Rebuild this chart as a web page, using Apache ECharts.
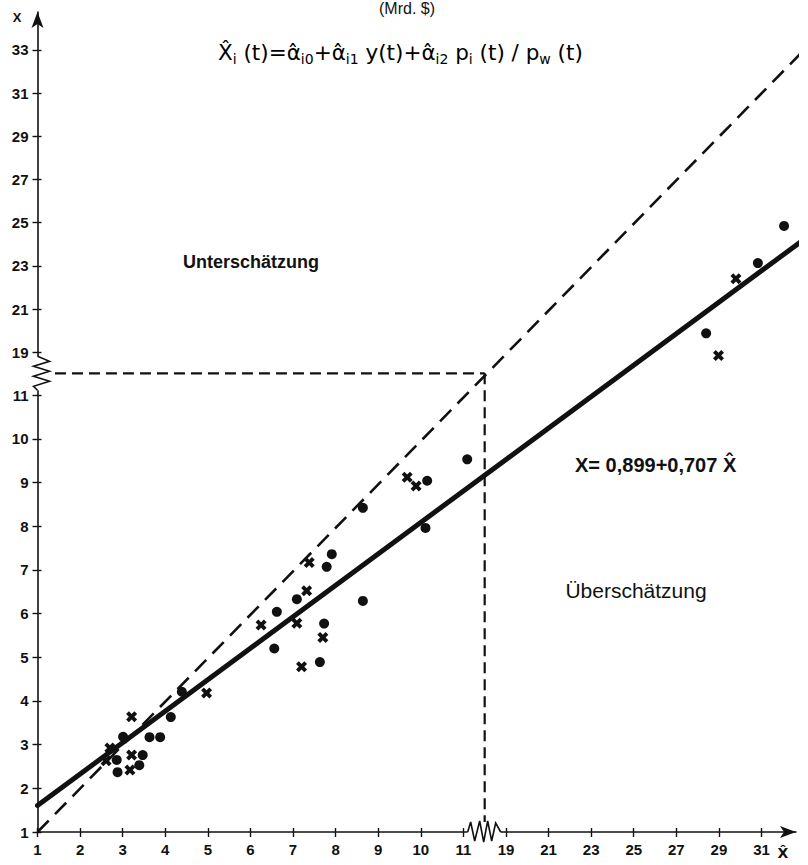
<!DOCTYPE html>
<html>
<head>
<meta charset="utf-8">
<script src="https://cdn.jsdelivr.net/npm/echarts@6/dist/echarts.min.js"></script>
<style>
  html, body { margin: 0; padding: 0; background: #fff; }
  #chart { width: 808px; height: 865px; }
</style>
</head>
<body>
<div id="chart"></div>
<script>
// Observed (X) against estimated (X̂) values, Mrd. $
// Countries shown with crosses
const crossXhat = [3.21, 2.70, 2.61, 3.21, 3.17, 4.97, 9.68, 9.89, 7.38, 7.32, 6.25, 7.09, 7.70, 7.20, 29.80, 28.98];
const crossX    = [3.64, 2.92, 2.63, 2.76, 2.42, 4.18, 9.12, 8.92, 7.17, 6.52, 5.74, 5.78, 5.45, 4.78, 22.40, 18.85];
// Countries shown with filled dots
const dotXhat = [4.13, 3.01, 3.63, 3.88, 2.86, 2.88, 3.47, 3.39, 4.39, 11.09, 10.15, 8.64, 10.11, 7.91, 7.79, 7.09, 6.62, 8.64, 7.73, 6.56, 7.63, 32.06, 30.83, 28.40];
const dotX    = [3.63, 3.18, 3.17, 3.17, 2.65, 2.37, 2.76, 2.53, 4.21, 9.53, 9.04, 8.42, 7.96, 7.36, 7.07, 6.33, 6.04, 6.29, 5.77, 5.20, 4.89, 24.85, 23.13, 19.88];

// Tick labels below and above the axis break
const lowerTicks = [1, 2, 3, 4, 5, 6, 7, 8, 9, 10, 11];
const xUpperTicks = [19, 21, 23, 25, 27, 29, 31];
const yUpperTicks = [19, 21, 23, 25, 27, 29, 31, 33];

// Fitted line X = 0,899 + 0,707 X̂ and the 45° reference line
const regIntercept = 0.899;
const regSlope = 0.707;
const regRange = [1, 33];
const diagonalRange = [1, 33.6];
const breakValue = 11.5;

// Axis scale: 1:1 up to 11, from 19 on at about half scale
function xPos(v) { return v <= 15 ? v : 12 + (v - 19) * 0.5; }
function yPos(v) { return v <= 15 ? v : 11.98 + (v - 19) * 0.4945; }

const xTickPos = lowerTicks.map(xPos).concat(xUpperTicks.map(xPos));
const xTickText = lowerTicks.concat(xUpperTicks).map(String);
const yTickPos = lowerTicks.map(yPos).concat(yUpperTicks.map(yPos));
const yTickText = lowerTicks.concat(yUpperTicks).map(String);

function labelLookup(pos, text) {
  return function (v) {
    let best = 0;
    for (let i = 1; i < pos.length; i++) {
      if (Math.abs(pos[i] - v) < Math.abs(pos[best] - v)) best = i;
    }
    return text[best];
  };
}

const crossPts = crossXhat.map((x, i) => [xPos(x), yPos(crossX[i])]);
const dotPts = dotXhat.map((x, i) => [xPos(x), yPos(dotX[i])]);
const regPts = regRange.map(x => [xPos(x), yPos(regIntercept + regSlope * x)]);
const diagPts = diagonalRange.map(v => [xPos(v), yPos(v)]);
const hGuide = [[1.41, breakValue], [breakValue, breakValue]];
const vGuide = [[breakValue, breakValue], [breakValue, 1.23]];

const INK = '#111';
const FONT = '"Liberation Sans", Arial, sans-serif';
const MATH_FONT = '"DejaVu Sans", sans-serif';
const CROSS = 'path://M2.5,0 L5,2.5 L7.5,0 L10,2.5 L7.5,5 L10,7.5 L7.5,10 L5,7.5 L2.5,10 L0,7.5 L2.5,5 L0,2.5 Z';

// zigzag outlines of the two axis breaks, relative to the break centre
const zigX = [[-17, 0], [-14, -10], [-10, 9], [-5, -11], [-1, 10], [3, -11], [7, 9], [11, -9], [16, 0]];
const zigY = [[0, -17], [12, -12], [-4, -7], [12, -2], [-4, 3], [12, 8], [-4, 13], [0, 17]];

function axisPair(isX) {
  const pos = isX ? xTickPos : yTickPos;
  const text = isX ? xTickText : yTickText;
  const common = {
    type: 'value',
    position: isX ? 'bottom' : 'left',
    min: 1,
    max: isX ? 18.81 : 19.77,
    splitLine: { show: false },
    axisPointer: { show: false }
  };
  return [
    Object.assign({}, common, {
      axisLine: {
        show: true, onZero: false,
        symbol: ['none', 'arrow'], symbolSize: [9, 16],
        lineStyle: { color: INK, width: 1.6 }
      },
      axisTick: { show: true, customValues: pos, length: 5, lineStyle: { color: INK, width: 1.4 } },
      axisLabel: {
        show: true, customValues: pos, formatter: labelLookup(pos, text),
        margin: isX ? 10 : 9, color: INK, fontSize: 15, fontWeight: 'bold', fontFamily: FONT
      }
    }),
    Object.assign({}, common, {
      axisLine: { show: false },
      axisTick: { show: true, inside: true, customValues: pos, length: 4, lineStyle: { color: INK, width: 1.4 } },
      axisLabel: { show: false }
    })
  ];
}

const chart = echarts.init(document.getElementById('chart'), null, { renderer: 'svg' });

chart.setOption({
  animation: false,
  backgroundColor: '#fff',
  grid: { left: 37.5, right: 12, top: 12, bottom: 33 },
  xAxis: axisPair(true),
  yAxis: axisPair(false),
  graphic: [
    { type: 'text', x: 407, y: 8,
      style: { text: '(Mrd. $)', fill: INK, font: '16px ' + FONT, textAlign: 'center', textVerticalAlign: 'middle' } },
    { type: 'text', x: 17, y: 17,
      style: { text: 'X', fill: INK, font: 'bold 13px ' + FONT, textAlign: 'center', textVerticalAlign: 'middle' } },
    { type: 'text', x: 783, y: 853,
      style: { text: 'X\u0302', fill: INK, font: 'bold 14px ' + MATH_FONT, textAlign: 'center', textVerticalAlign: 'middle' } },
    { type: 'text', x: 218, y: 52,
      style: {
        text: '{m|X\u0302}{s|i}{m| (t)=\u03b1\u0302}{s|i0}{m|+\u03b1\u0302}{s|i1}{m| y(t)+\u03b1\u0302}{s|i2}{m| p}{s|i}{m| (t) / p}{s|w}{m| (t)}',
        textVerticalAlign: 'middle',
        rich: {
          m: { fontSize: 21.5, fontFamily: MATH_FONT, color: INK, lineHeight: 28 },
          s: { fontSize: 14, fontFamily: MATH_FONT, color: INK, lineHeight: 14, verticalAlign: 'bottom' }
        }
      } },
    { type: 'text', x: 251, y: 262,
      style: { text: 'Unterschätzung', fill: INK, font: 'bold 18px ' + FONT, textAlign: 'center', textVerticalAlign: 'middle' } },
    { type: 'text', x: 636, y: 590,
      style: { text: 'Überschätzung', fill: INK, font: '21px ' + FONT, textAlign: 'center', textVerticalAlign: 'middle' } },
    { type: 'text', x: 575, y: 465,
      style: { text: 'X= 0,899+0,707 X\u0302', fill: INK, font: 'bold 20px ' + FONT, textVerticalAlign: 'middle' } }
  ],
  series: [
    {
      type: 'line', data: diagPts, showSymbol: false, clip: false, silent: true,
      lineStyle: { color: INK, width: 2.6, type: [16, 9] }
    },
    {
      type: 'line', data: hGuide, showSymbol: false, clip: false, silent: true,
      lineStyle: { color: INK, width: 2.2, type: [11, 6] }
    },
    {
      type: 'line', data: vGuide, showSymbol: false, clip: false, silent: true,
      lineStyle: { color: INK, width: 2.2, type: [11, 6] }
    },
    {
      type: 'line', data: regPts, showSymbol: false, clip: false, silent: true,
      lineStyle: { color: INK, width: 5, cap: 'round' }
    },
    {
      type: 'scatter', data: dotPts, symbol: 'circle', symbolSize: 10,
      itemStyle: { color: INK, opacity: 1 }
    },
    {
      type: 'scatter', data: crossPts, symbol: CROSS, symbolSize: 11,
      itemStyle: { color: INK, opacity: 1 }
    },
    {
      type: 'custom', clip: false, silent: true, z: 5,
      data: [[xPos(breakValue), 1, 0], [1, yPos(breakValue), 1]],
      renderItem: function (params, api) {
        const c = api.coord([api.value(0), api.value(1)]);
        const horizontal = api.value(2) === 0;
        const pts = (horizontal ? zigX : zigY).map(d => [c[0] + d[0], c[1] + d[1]]);
        const cover = horizontal
          ? { x: c[0] - 17, y: c[1] - 3, width: 33, height: 6 }
          : { x: c[0] - 3, y: c[1] - 17, width: 6, height: 34 };
        return {
          type: 'group',
          children: [
            { type: 'rect', shape: cover, style: { fill: '#fff' } },
            { type: 'polyline', shape: { points: pts }, style: { stroke: INK, lineWidth: 1.6, fill: null } }
          ]
        };
      }
    }
  ]
});
</script>
</body>
</html>
